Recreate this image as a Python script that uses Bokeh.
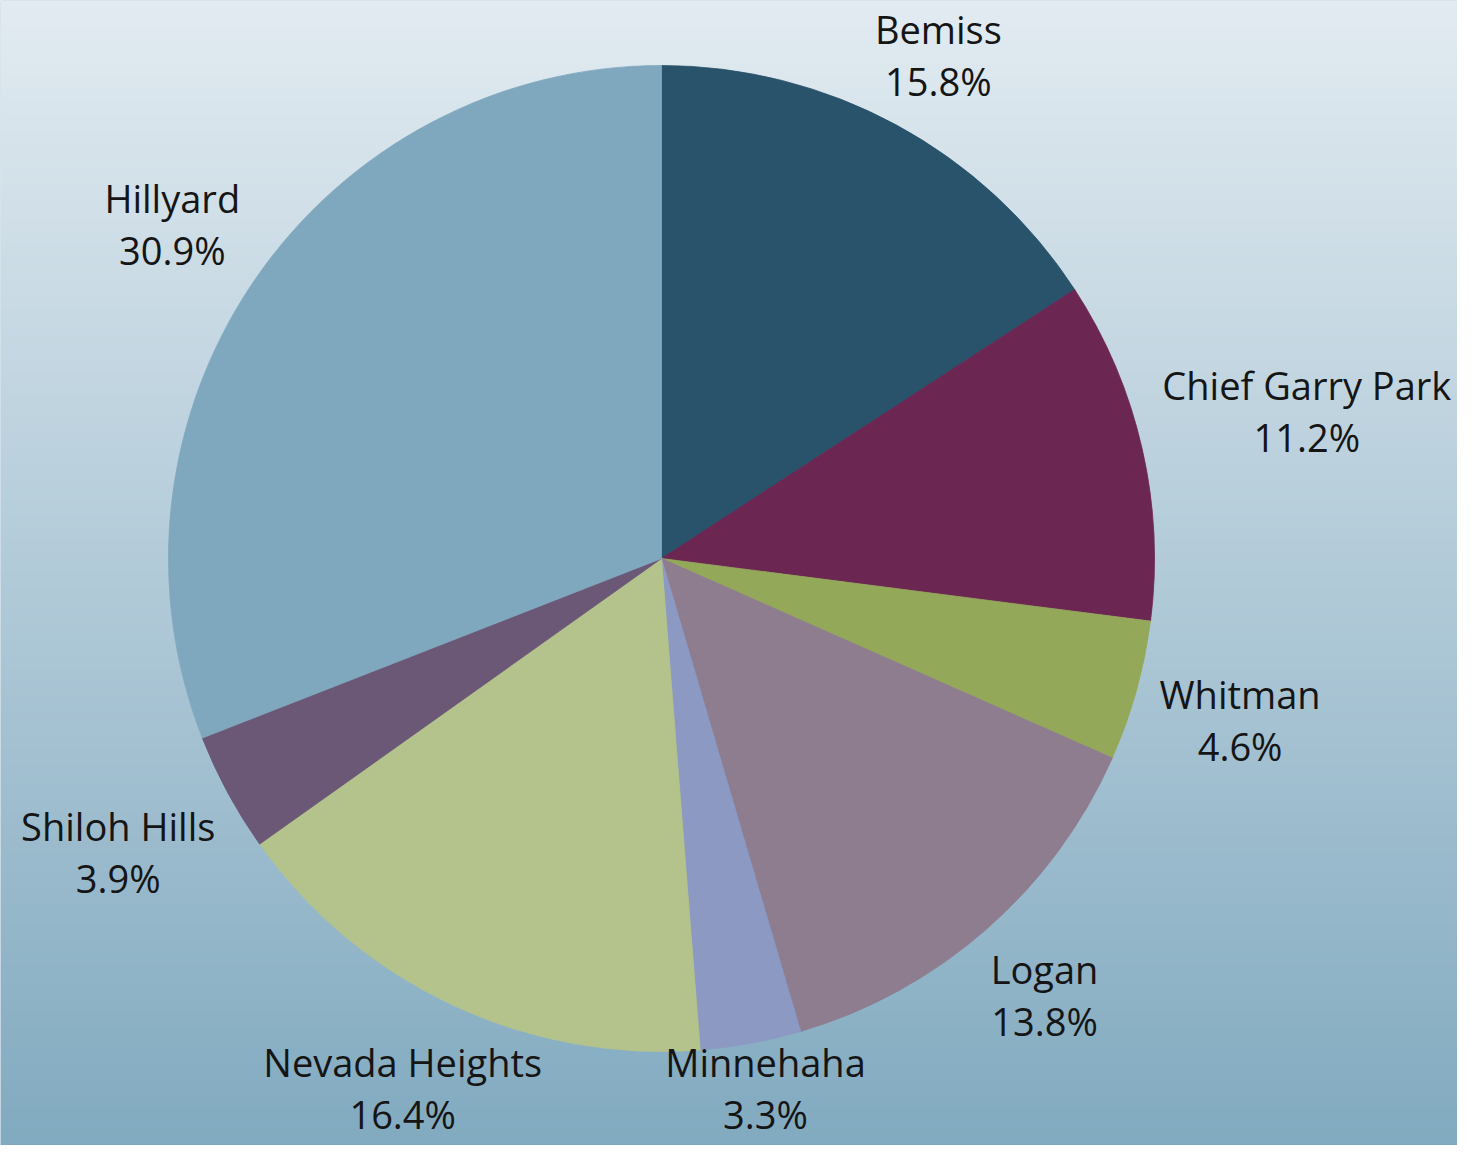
import numpy as np
from bokeh.plotting import figure
from bokeh.models import Range1d, ColumnDataSource
from bokeh.embed import file_html
from bokeh.resources import INLINE
from bokeh.core.properties import value

# ---- data ----
names = ["Bemiss", "Chief Garry Park", "Whitman", "Logan", "Minnehaha",
         "Nevada Heights", "Shiloh Hills", "Hillyard"]
shares = [15.8, 11.2, 4.6, 13.8, 3.3, 16.4, 3.9, 30.9]
colors = ["#29526b", "#6b2652", "#94a85a", "#8e7c8f", "#8b99c3",
          "#b4c38c", "#6b5776", "#7fa8bf"]

# ---- layout constants ----
W, H = 1457, 1145
PAGE_H = 1161
CX, CY = 661, PAGE_H - 558
R = 493
FONT_PX = 38
LINE_STEP = 52
GAP = 18
HALF_H = 45

CHAR_EM = {' ': 0.26, '.': 0.27, '%': 0.86, 'i': 0.25, 'l': 0.25, 'f': 0.34,
           't': 0.35, 'r': 0.41, 's': 0.48, 'c': 0.48, 'a': 0.56, 'e': 0.56,
           'y': 0.5, 'k': 0.52, 'd': 0.61, 'h': 0.61, 'n': 0.61, 'o': 0.6,
           'm': 0.93, 'g': 0.55, 'B': 0.64, 'C': 0.63, 'G': 0.73, 'H': 0.74,
           'L': 0.55, 'M': 0.89, 'N': 0.75, 'P': 0.6, 'S': 0.54, 'W': 0.93}


def text_width(s):
    return sum(CHAR_EM.get(ch, 0.57) for ch in s) * FONT_PX


vals = np.array(shares, dtype=float)
frac = vals / vals.sum()
cum = np.concatenate([[0.0], np.cumsum(frac)])
start = np.pi / 2 - 2 * np.pi * cum[:-1]
end = np.pi / 2 - 2 * np.pi * cum[1:]
mid = 2 * np.pi * (cum[:-1] + cum[1:]) / 2  # clockwise from 12 o'clock

pct_labels = [f"{v:.1f}%" for v in shares]

lx, ly = [], []
for nm, pl, t in zip(names, pct_labels, mid):
    w = max(text_width(nm), text_width(pl))
    s, c = np.sin(t), np.cos(t)
    d = R + GAP + (w / 2) * abs(s) + HALF_H * abs(c)
    x = CX + d * s
    y = CY + d * c
    y = min(y, PAGE_H - 54)      # keep the top label inside the page
    y = max(y, PAGE_H - 1087)    # keep the bottom labels inside the page
    lx.append(x)
    ly.append(y)

src = ColumnDataSource(dict(name=names, share=shares, color=colors,
                            start=start, end=end))
lab = ColumnDataSource(dict(x=lx, yn=[y + LINE_STEP / 2 for y in ly],
                            yp=[y - LINE_STEP / 2 for y in ly],
                            name=names, pct=pct_labels))

p = figure(width=W, height=H, output_backend="svg", toolbar_location=None,
           x_range=Range1d(0, W), y_range=Range1d(PAGE_H - H, PAGE_H),
           min_border=0, outline_line_color=None)
p.axis.visible = False
p.grid.visible = False
p.background_fill_color = "#b0c9d7"
p.border_fill_color = "#b0c9d7"

# background vertical gradient
n = H
ys = np.linspace(PAGE_H - H, PAGE_H, n)
tref = (PAGE_H - ys) / PAGE_H
top = np.array([226, 235, 241], dtype=float)
bot = np.array([128, 169, 191], dtype=float)
rgb = top[None, :] * (1 - tref[:, None]) + bot[None, :] * tref[:, None]
img = np.empty((n, 1), dtype=np.uint32)
view = img.view(dtype=np.uint8).reshape((n, 1, 4))
view[:, 0, 0:3] = rgb.round().astype(np.uint8)
view[:, 0, 3] = 255
p.image_rgba(image=[img], x=0, y=PAGE_H - H, dw=W, dh=H)

p.wedge(x=CX, y=CY, radius=R, start_angle="start", end_angle="end",
        direction="clock", fill_color="color", line_color="color",
        line_width=0.8, source=src)

common = dict(text_font=value("Open Sans"), text_font_size=f"{FONT_PX}px",
              text_align="center", text_baseline="middle", text_color="#151515")
p.text(x="x", y="yn", text="name", source=lab, **common)
p.text(x="x", y="yp", text="pct", source=lab, **common)

open("out.html", "w").write(file_html(p, INLINE))
